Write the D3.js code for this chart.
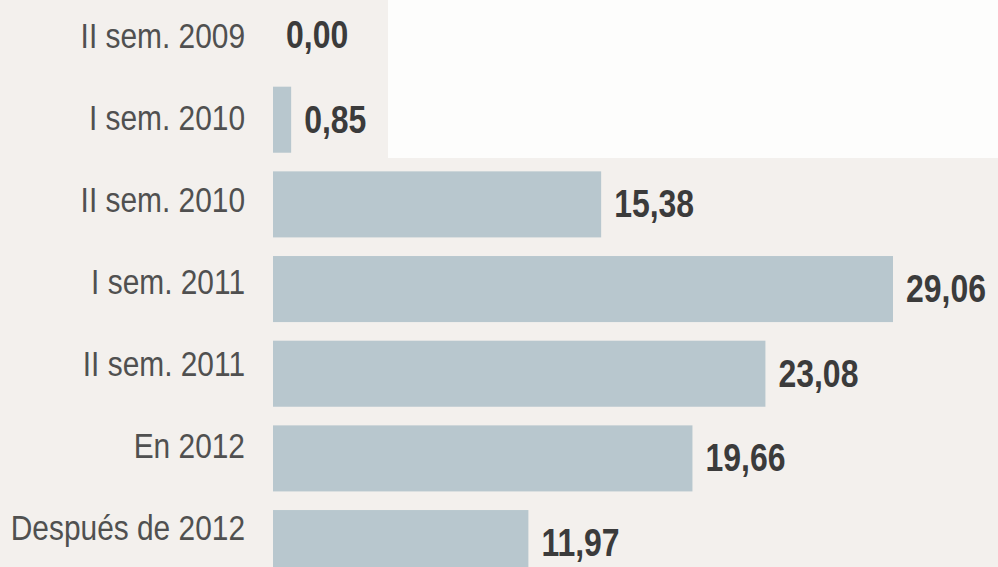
<!DOCTYPE html>
<html lang="es">
<head>
<meta charset="utf-8">
<script src="https://cdn.jsdelivr.net/npm/d3@7"></script>
<style>
  html, body { margin: 0; padding: 0; background: #f3f0ed; }
  svg { display: block; }
</style>
</head>
<body>
<svg id="chart" width="998" height="567"></svg>
<script>
// Periods and amounts (in the order they are listed)
const periods = [
  "II sem. 2009",
  "I sem. 2010",
  "II sem. 2010",
  "I sem. 2011",
  "II sem. 2011",
  "En 2012",
  "Después de 2012"
];
const amounts = [0.00, 0.85, 15.38, 29.06, 23.08, 19.66, 11.97];

const W = 998, H = 567;
const svg = d3.select("#chart");

const es = d3.formatLocale({ decimal: ",", thousands: ".", grouping: [3], currency: ["", " €"] });
const fmt = es.format(".2f");

const rows = periods.map((p, i) => ({ period: p, value: amounts[i] }));

// condensed look: Liberation Sans squeezed horizontally
const FONT = "'Liberation Sans', Arial, sans-serif";
const LABEL_SQUEEZE = 0.83;
const VALUE_SQUEEZE = 0.82;

// paper background, with the lighter patch at the upper right
svg.append("rect").attr("x", 0).attr("y", 0).attr("width", W).attr("height", H).attr("fill", "#f3f0ed");
svg.append("rect").attr("x", 388).attr("y", 0).attr("width", W - 388).attr("height", 158).attr("fill", "#fdfdfc");

// scales
const x = d3.scaleLinear().domain([0, d3.max(amounts)]).range([273, 893]);
const y = d3.scaleBand().domain(periods).range([-7.3, 585.4]).paddingInner(0.22).paddingOuter(0.11);
const yLabel = d3.scalePoint().domain(periods).range([48, 540]);

// bars
svg.append("g")
  .selectAll("rect")
  .data(rows.filter(d => d.value > 0))
  .join("rect")
  .attr("x", x(0))
  .attr("y", d => y(d.period))
  .attr("width", d => x(d.value) - x(0))
  .attr("height", y.bandwidth())
  .attr("fill", "#b8c7ce");

// period labels
svg.append("g")
  .selectAll("text")
  .data(rows)
  .join("text")
  .attr("transform", d => `translate(245,${yLabel(d.period)}) scale(${LABEL_SQUEEZE},1)`)
  .attr("text-anchor", "end")
  .attr("font-family", FONT)
  .attr("font-size", 36)
  .attr("fill", "#505050")
  .text(d => d.period);

// value labels
svg.append("g")
  .selectAll("text")
  .data(rows)
  .join("text")
  .attr("transform", d => `translate(${x(d.value) + 13},${y(d.period) + y.bandwidth() / 2 + 13}) scale(${VALUE_SQUEEZE},1)`)
  .attr("font-family", FONT)
  .attr("font-weight", "bold")
  .attr("font-size", 39)
  .attr("fill", "#3b3b3b")
  .text(d => fmt(d.value));
</script>
</body>
</html>
